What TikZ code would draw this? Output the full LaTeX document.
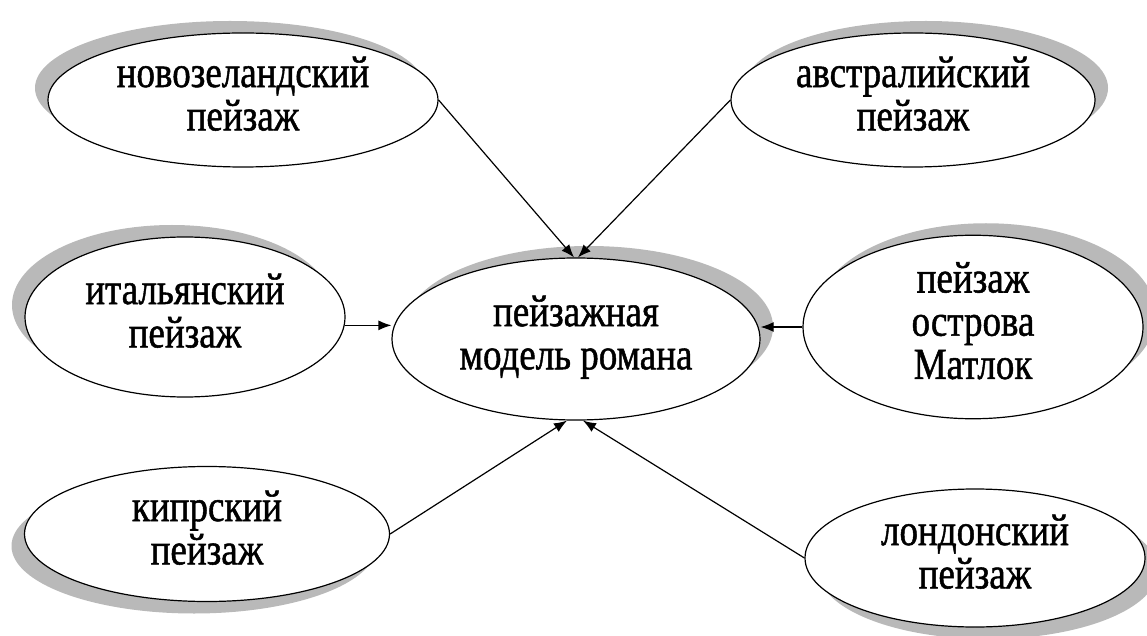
\documentclass[tikz,border=0pt]{standalone}
\usepackage{fontspec}
\setmainfont{Liberation Serif}[FakeBold=1.2]
\usepackage{graphicx}
\usetikzlibrary{
    arrows.meta,
    shapes.geometric,
    shadows
}

\newcommand{\tallstack}[1]{\scalebox{1}[1.2]{\begin{tabular}{@{}c@{}}#1\end{tabular}}}

\begin{document}
\begin{tikzpicture}[x=1pt, y=1pt,
    every node/.style={ellipse, draw, line width=1.2pt, fill=white, inner sep=0pt, align=center, font=\fontsize{37}{36}\selectfont},
    shadow tl/.style={drop shadow={shadow xshift=-13pt, shadow yshift=12pt, fill=gray!55, opacity=1}},
    shadow tr/.style={drop shadow={shadow xshift=13pt, shadow yshift=12pt, fill=gray!55, opacity=1}},
    shadow bl/.style={drop shadow={shadow xshift=-13pt, shadow yshift=-12pt, fill=gray!55, opacity=1}},
    shadow br/.style={drop shadow={shadow xshift=13pt, shadow yshift=-12pt, fill=gray!55, opacity=1}},
    arr/.style={-{Latex[length=13pt, width=10pt]}, line width=1.2pt}]
    \useasboundingbox (0,0) rectangle (1147,635);

    \node (model) [shadow tr, minimum width=368pt, minimum height=162pt] at (576,296) {\tallstack{пейзажная\\модель романа}};
    \node (nz) [shadow tl, minimum width=390pt, minimum height=134pt] at (243,535) {\tallstack{новозеландский\\пейзаж}};
    \node (aus) [shadow tr, minimum width=364pt, minimum height=134pt] at (913,535) {\tallstack{австралийский\\пейзаж}};
    \node (ital) [shadow tl, minimum width=320pt, minimum height=160pt] at (185,318) {\tallstack{итальянский\\пейзаж}};
    \node (matl) [shadow tr, minimum width=340pt, minimum height=181pt] at (973,308) {\tallstack{пейзаж\\острова\\Матлок}};
    \node (cyp) [shadow bl, minimum width=365pt, minimum height=135pt] at (207,101) {\tallstack{кипрский\\пейзаж}};
    \node (lond) [shadow br, minimum width=340pt, minimum height=138pt] at (975,77) {\tallstack{лондонский\\пейзаж}};

    \draw[arr] (nz.east) -- ([xshift=-2pt]model.north);
    \draw[arr] (aus.west) -- ([xshift=2pt]model.north);
    \draw[arr] (ital.-3.5) -- (model.west |- ital.-3.5);
    \draw[arr] (matl.west) -- (model.east |- matl.west);
    \draw[arr] (cyp.east) -- ([xshift=-9pt]model.south);
    \draw[arr] (lond.west) -- ([xshift=7pt]model.south);
\end{tikzpicture}
\end{document}
